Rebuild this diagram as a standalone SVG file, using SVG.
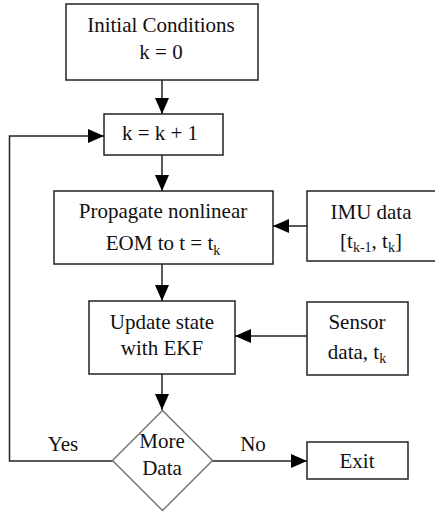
<svg xmlns="http://www.w3.org/2000/svg" width="435" height="512" viewBox="0 0 435 512">
  <style>
    .box { fill: #fff; stroke: #222; stroke-width: 1.5; }
    .dia { fill: #fff; stroke: #777; stroke-width: 1.5; }
    .lbl { font-family: 'Liberation Serif', 'Tinos', 'DejaVu Serif', serif; font-size: 21px; fill: #111; text-anchor: middle; }
    .sub { font-size: 14px; }
    .wire { fill: none; stroke: #222; stroke-width: 1.5; }
  </style>
  <defs>
    <marker id="arrow" viewBox="0 0 16 14" refX="16" refY="7" markerWidth="16" markerHeight="14" markerUnits="userSpaceOnUse" orient="auto">
      <path d="M0,0 L16,7 L0,14 Z" fill="#000"/>
    </marker>
  </defs>
  <rect width="435" height="512" fill="#fff"/>

  <g id="connectors">
    <line class="wire" x1="162" y1="80" x2="162" y2="114" marker-end="url(#arrow)"/>
    <line class="wire" x1="162" y1="155" x2="162" y2="191" marker-end="url(#arrow)"/>
    <line class="wire" x1="162" y1="264" x2="162" y2="301" marker-end="url(#arrow)"/>
    <line class="wire" x1="162" y1="374" x2="162" y2="410" marker-end="url(#arrow)"/>
    <line class="wire" x1="307" y1="226" x2="273" y2="226" marker-end="url(#arrow)"/>
    <line class="wire" x1="307" y1="336" x2="235" y2="336" marker-end="url(#arrow)"/>
    <line class="wire" x1="212" y1="461" x2="307" y2="461" marker-end="url(#arrow)"/>
    <polyline class="wire" points="113,461 9.5,461 9.5,136 104,136" marker-end="url(#arrow)"/>
    <text class="lbl" x="63" y="451" font-family="Liberation Serif, serif">Yes</text>
    <text class="lbl" x="253" y="451" font-family="Liberation Serif, serif">No</text>
  </g>

  <g id="init">
    <rect class="box" x="66" y="4" width="192" height="76"/>
    <text class="lbl" x="161" y="32">Initial Conditions</text>
    <text class="lbl" x="161" y="59">k = 0</text>
  </g>

  <g id="increment">
    <rect class="box" x="104" y="114" width="119" height="41"/>
    <text class="lbl" x="160" y="140">k = k + 1</text>
  </g>

  <g id="propagate">
    <rect class="box" x="54" y="191" width="219" height="73"/>
    <text class="lbl" x="163" y="218">Propagate nonlinear</text>
    <text class="lbl" x="163" y="250">EOM to t = t<tspan class="sub" dy="5">k</tspan></text>
  </g>

  <g id="imu">
    <rect class="box" x="307" y="191" width="140" height="70"/>
    <text class="lbl" x="371" y="219">IMU data</text>
    <text class="lbl" x="371" y="248">[t<tspan class="sub" dy="4">k-1</tspan><tspan dy="-4">, t</tspan><tspan class="sub" dy="4">k</tspan><tspan dy="-4">]</tspan></text>
  </g>

  <g id="update">
    <rect class="box" x="89" y="301" width="146" height="73"/>
    <text class="lbl" x="162" y="329">Update state</text>
    <text class="lbl" x="162" y="355">with EKF</text>
  </g>

  <g id="sensor">
    <rect class="box" x="307" y="302" width="101" height="73"/>
    <text class="lbl" x="357" y="329">Sensor</text>
    <text class="lbl" x="357" y="359">data, t<tspan class="sub" dy="4">k</tspan></text>
  </g>

  <g id="decision">
    <polygon class="dia" points="162.5,410.5 212.5,460.5 162.5,510.5 112.5,460.5"/>
    <text class="lbl" x="162" y="448">More</text>
    <text class="lbl" x="162" y="475">Data</text>
  </g>

  <g id="exit">
    <rect class="box" x="307" y="442" width="101" height="37"/>
    <text class="lbl" x="357" y="468">Exit</text>
  </g>
</svg>
